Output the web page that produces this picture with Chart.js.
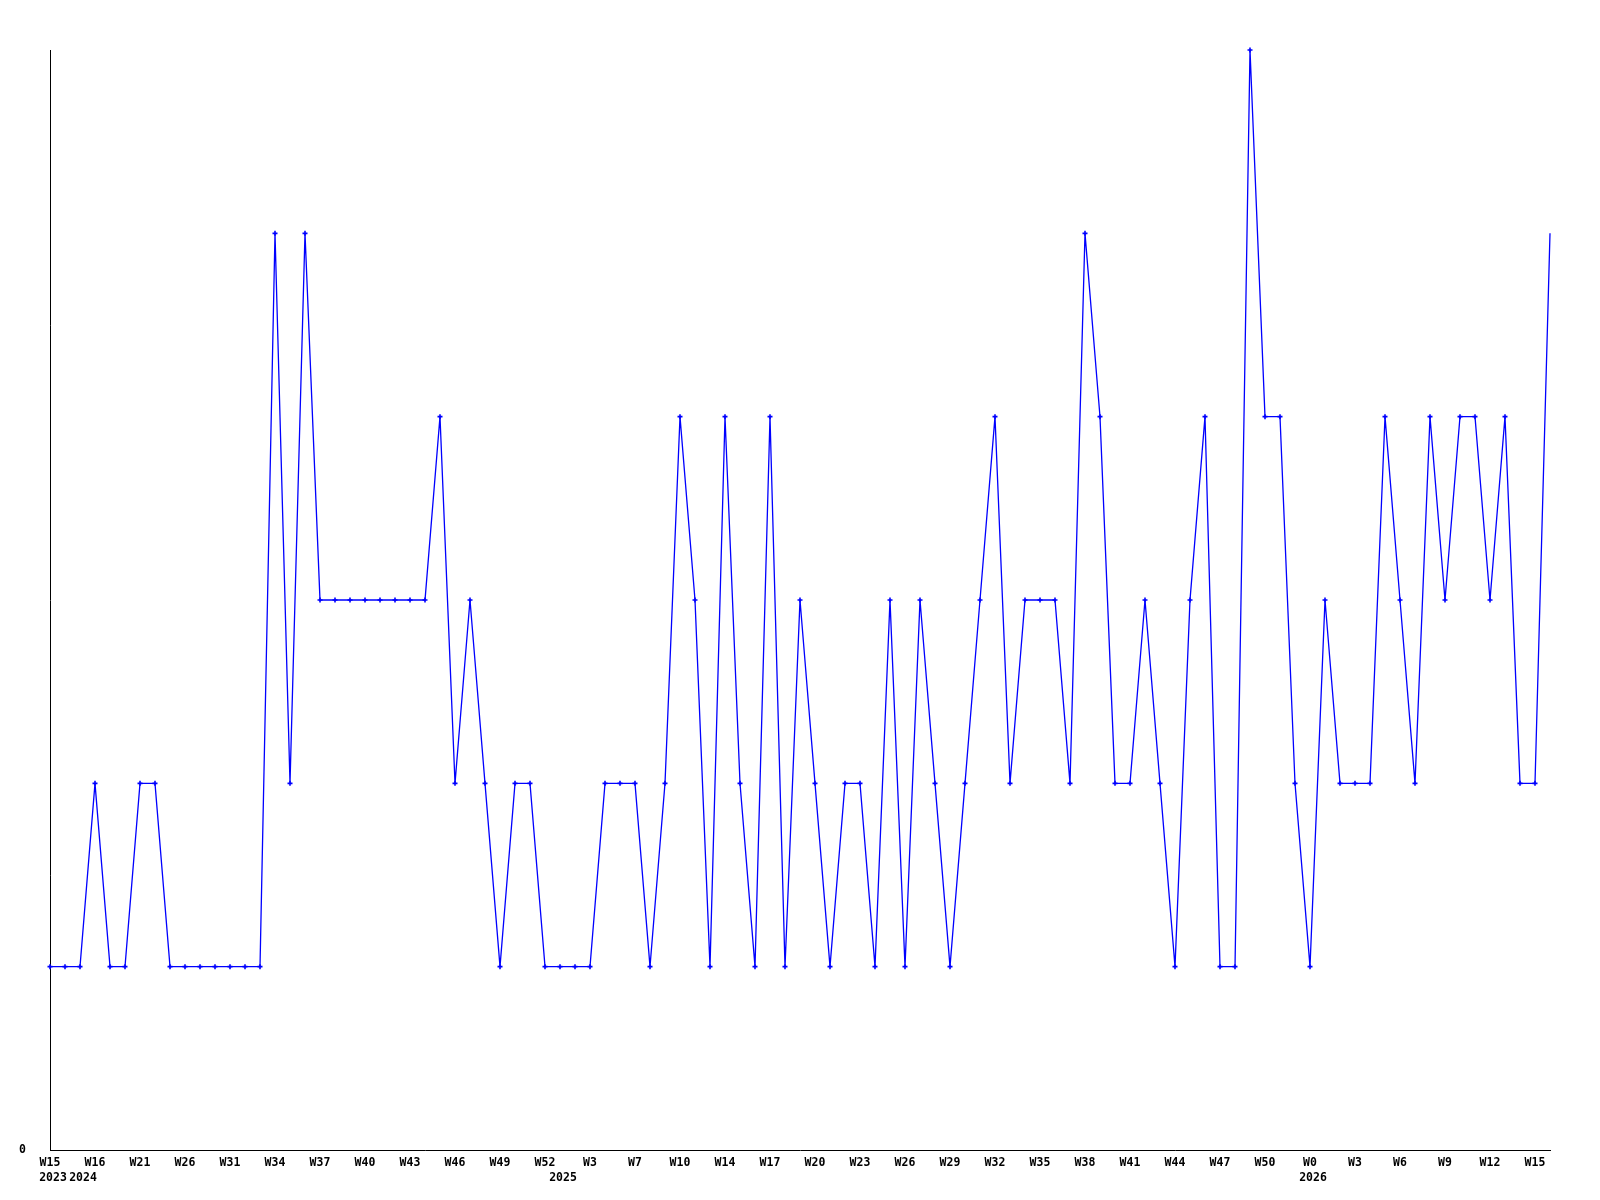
<!DOCTYPE html>
<html>
<head>
<meta charset="utf-8">
<script src="https://cdn.jsdelivr.net/npm/chart.js@4/dist/chart.umd.min.js"></script>
<style>
  body { margin: 0; background: #fff; }
</style>
</head>
<body>
<canvas id="weekly-chart" width="1600" height="1200"></canvas>
<script>
// weekly counts, one per point (101 points)
var counts = [
  1, 1, 1, 2, 1, 1, 2, 2, 1, 1,
  1, 1, 1, 1, 1, 5, 2, 5, 3, 3,
  3, 3, 3, 3, 3, 3, 4, 2, 3, 2,
  1, 2, 2, 1, 1, 1, 1, 2, 2, 2,
  1, 2, 4, 3, 1, 4, 2, 1, 4, 1,
  3, 2, 1, 2, 2, 1, 3, 1, 3, 2,
  1, 2, 3, 4, 2, 3, 3, 3, 2, 5,
  4, 2, 2, 3, 2, 1, 3, 4, 1, 1,
  6, 4, 4, 2, 1, 3, 2, 2, 2, 4,
  3, 2, 4, 3, 4, 4, 3, 4, 2, 2,
  5
];

// one label every third point
var tickLabels = ['W15', 'W16', 'W21', 'W26', 'W31', 'W34', 'W37', 'W40', 'W43', 'W46',
  'W49', 'W52', 'W3', 'W7', 'W10', 'W14', 'W17', 'W20', 'W23', 'W26',
  'W29', 'W32', 'W35', 'W38', 'W41', 'W44', 'W47', 'W50', 'W0', 'W3',
  'W6', 'W9', 'W12', 'W15'];

var years = ['2023', '2024', '2025', '2026'];
var yearStarts = [0, 2, 34, 84];

var categories = counts.map(function(v, i) { return i; });

var fontFamily = '"DejaVu Sans Mono", monospace';

var yearPlugin = {
  id: 'yearRow',
  afterDraw: function(chart) {
    var ctx = chart.ctx;
    var xs = chart.scales.x;
    ctx.save();
    ctx.font = 'bold 11.5px ' + fontFamily;
    ctx.fillStyle = '#000';
    ctx.textAlign = 'center';
    ctx.textBaseline = 'middle';
    years.forEach(function(y, k) {
      ctx.fillText(y, xs.getPixelForValue(yearStarts[k]) + 3, 1178);
    });
    ctx.restore();
  }
};

var ctx = document.getElementById('weekly-chart').getContext('2d');
new Chart(ctx, {
  type: 'line',
  data: {
    labels: categories,
    datasets: [{
      data: counts,
      borderColor: '#0000ff',
      backgroundColor: '#0000ff',
      borderWidth: 1.3,
      tension: 0,
      fill: false,
      pointStyle: 'cross',
      pointRadius: function(c) { return c.dataIndex === counts.length - 1 ? 0 : 2.5; },
      pointBorderWidth: 1.6,
      pointBorderColor: '#0000ff',
      pointBackgroundColor: '#0000ff',
      clip: false
    }]
  },
  options: {
    responsive: false,
    animation: false,
    layout: { padding: { left: 0, right: 50, top: 50, bottom: 0 } },
    plugins: {
      legend: { display: false },
      tooltip: { enabled: false }
    },
    scales: {
      x: {
        type: 'category',
        offset: false,
        grid: { display: false, drawTicks: false },
        border: { display: true, color: '#000', width: 1 },
        afterFit: function(scale) { scale.height = 50; },
        ticks: {
          autoSkip: false,
          maxRotation: 0,
          minRotation: 0,
          padding: 6,
          color: '#000',
          font: { family: fontFamily, size: 11.5, weight: 'bold' },
          callback: function(val, i) {
            return i % 3 === 0 ? tickLabels[i / 3] : '';
          }
        }
      },
      y: {
        min: 0,
        max: 6,
        grid: { display: false, drawTicks: false },
        border: { display: true, color: '#000', width: 1 },
        afterFit: function(scale) { scale.width = 50; },
        afterBuildTicks: function(scale) { scale.ticks = [{ value: 0 }]; },
        ticks: {
          padding: 24,
          color: '#000',
          font: { family: fontFamily, size: 11.5, weight: 'bold' },
          callback: function(v) { return String(v); }
        }
      }
    }
  },
  plugins: [yearPlugin]
});
</script>
</body>
</html>
